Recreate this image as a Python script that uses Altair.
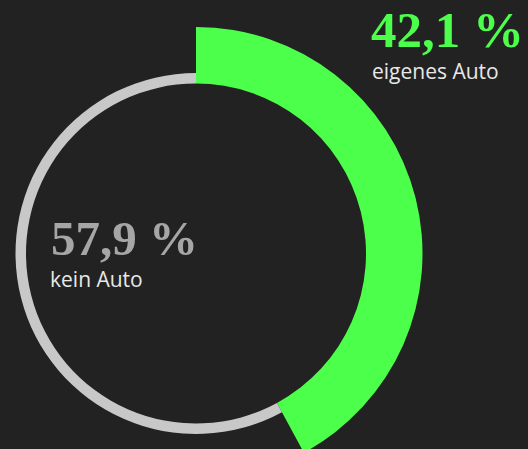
import altair as alt
import altair.utils.html as _ah
import pandas as pd

categories = ["eigenes Auto", "kein Auto"]
shares = [42.1, 57.9]
arc_colors = ["#4cff4a", "#c8c8c8"]
value_colors = ["#4cff4a", "#a6a6a6"]
label_color = "#e8e8e8"
BG = "#222222"


def fmt(v):
    return f"{v:.1f}".replace(".", ",") + " %"


# make the page around the chart dark as well, and keep the svg unscaled
_orig_render = _ah.HTML_TEMPLATE.render


def _render(*a, **k):
    html = _orig_render(*a, **k)
    css = (f"<style>html,body{{background:{BG};overflow:hidden;}}"
           ".vega-embed svg{flex-shrink:0;}</style>\n</head>")
    return html.replace("</head>", css, 1)


_ah.HTML_TEMPLATE.render = _render

df = pd.DataFrame({"cat": categories, "share": shares, "order": list(range(len(categories)))})

W, H = 520, 441
cx, cy = 188, 245.5

arcs = (
    alt.Chart(df)
    .transform_joinaggregate(total="sum(share)")
    .transform_window(cum="sum(share)", sort=[alt.SortField("order")],
                      frame=[None, 0])
    .transform_calculate(
        t0="2 * PI * (datum.cum - datum.share) / datum.total",
        t1="2 * PI * datum.cum / datum.total",
        r=f"datum.cat == '{categories[0]}' ? 226.5 : 180.5",
    )
    .mark_arc(innerRadius=170, strokeWidth=0)
    .encode(
        theta=alt.Theta("t0:Q", scale=None),
        theta2="t1:Q",
        color=alt.Color("cat:N", scale=alt.Scale(domain=categories, range=arc_colors), legend=None),
        radius=alt.Radius("r:Q", scale=None),
        x=alt.value(cx),
        y=alt.value(cy),
    )
)

lab_df = pd.DataFrame({
    "cat": categories,
    "val": [fmt(v) for v in shares],
})


def value_text(i, x, y, size):
    return (
        alt.Chart(lab_df.iloc[[i]])
        .mark_text(align="left", baseline="alphabetic", font="Liberation Serif",
                   fontWeight="bold", fontSize=size, color=value_colors[i])
        .encode(text="val:N", x=alt.value(x), y=alt.value(y))
    )


def cat_text(i, x, y):
    return (
        alt.Chart(lab_df.iloc[[i]])
        .mark_text(align="left", baseline="alphabetic", font="Open Sans",
                   fontSize=21, color=label_color)
        .encode(text="cat:N", x=alt.value(x), y=alt.value(y))
    )


chart = (
    alt.layer(
        arcs,
        value_text(0, 363, 39, 51),
        cat_text(0, 364, 71),
        value_text(1, 43, 247, 49),
        cat_text(1, 42, 279),
    )
    .properties(width=W, height=H, background=BG, padding=0,
                autosize=alt.AutoSizeParams(type="none"))
    .configure_view(stroke=None)
)

chart.save("out.html", embed_options={"renderer": "svg", "actions": False})
